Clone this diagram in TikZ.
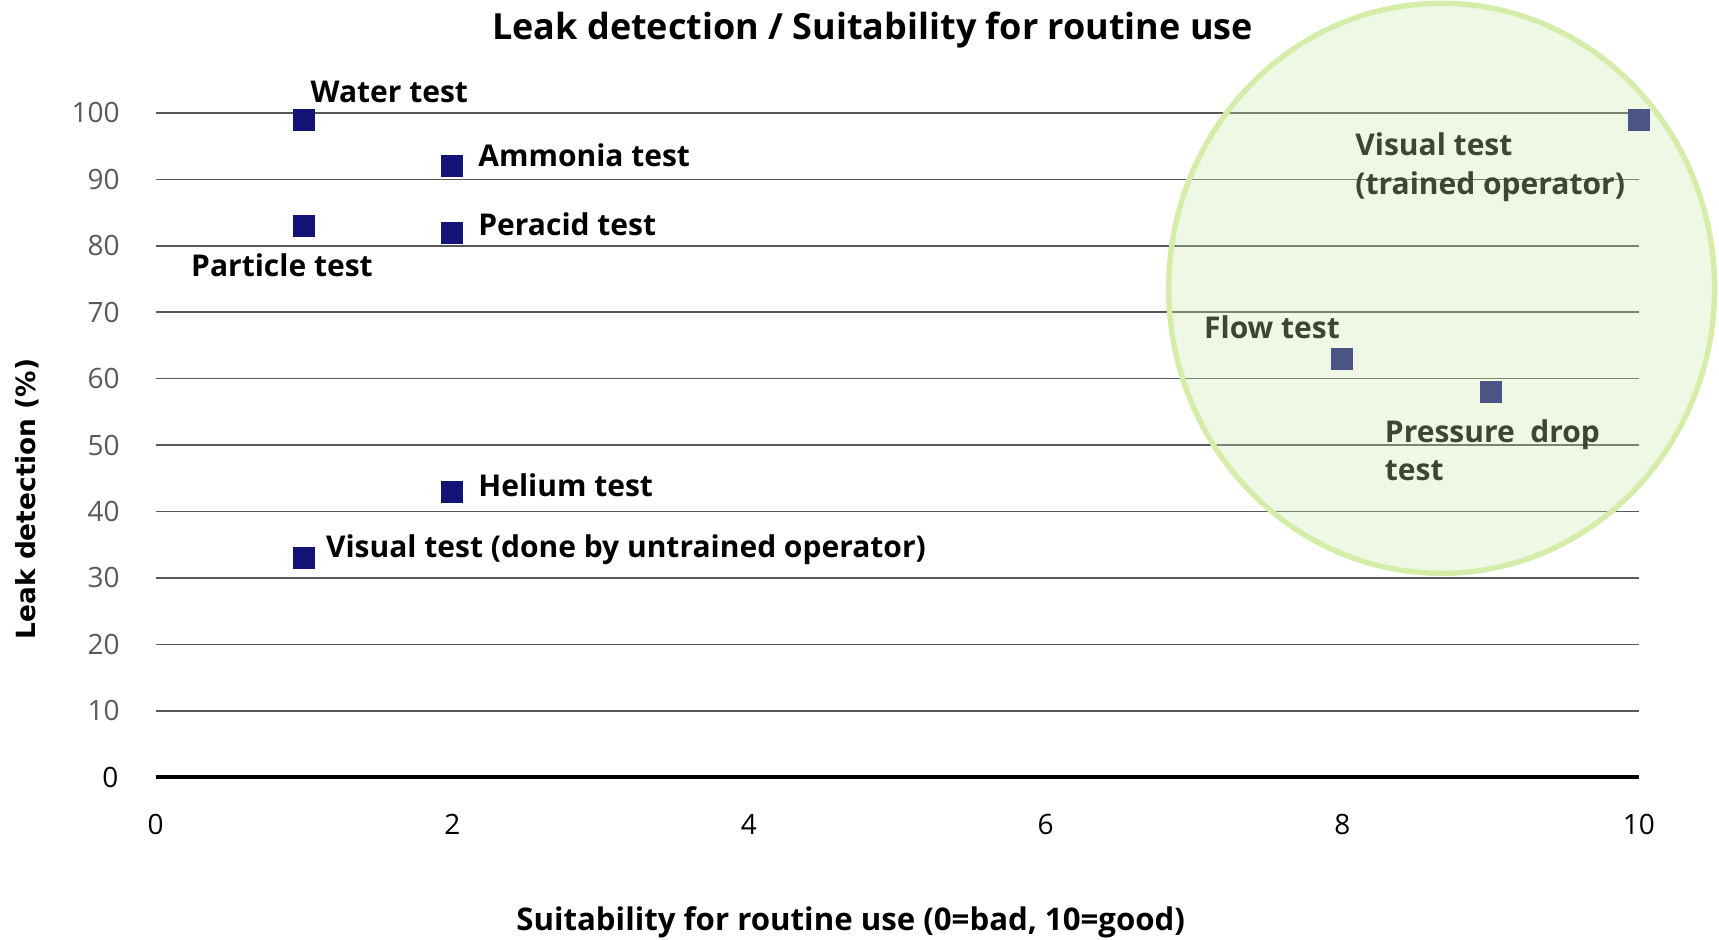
\documentclass[tikz,border=0pt]{standalone}
\usepackage{fontspec}
\setmainfont{Open Sans}
\newfontfamily\axisfont{DejaVu Sans}

\begin{document}
\begin{tikzpicture}[x=74.165pt,y=3.322pt,
    grid line/.style={black!65,line width=0.75pt},
    marker/.style={fill=markerblue,minimum size=11pt,inner sep=0pt},
    point label/.style={anchor=west,inner sep=0pt,align=left,
      font=\bfseries\fontsize{15}{19.2}\selectfont},
    tick label/.style={inner sep=0pt,font=\fontsize{14}{16}\selectfont}]

% Colours
\definecolor{markerblue}{RGB}{20,20,120}
\definecolor{zonefill}{RGB}{200,232,165}
\definecolor{zoneedge}{RGB}{212,238,170}

% Frame of the page
\useasboundingbox (-1.0497,-24.49) rectangle (10.540,117.0);

% Grid lines and y tick labels
\draw[grid line] (0,10) -- (10,10) node[pos=0,tick label,anchor=east,xshift=-17.6pt] (ytick10) {10};
\draw[grid line] (0,20) -- (10,20) node[pos=0,tick label,anchor=east,xshift=-17.6pt] (ytick20) {20};
\draw[grid line] (0,30) -- (10,30) node[pos=0,tick label,anchor=east,xshift=-17.6pt] (ytick30) {30};
\draw[grid line] (0,40) -- (10,40) node[pos=0,tick label,anchor=east,xshift=-17.6pt] (ytick40) {40};
\draw[grid line] (0,50) -- (10,50) node[pos=0,tick label,anchor=east,xshift=-17.6pt] (ytick50) {50};
\draw[grid line] (0,60) -- (10,60) node[pos=0,tick label,anchor=east,xshift=-17.6pt] (ytick60) {60};
\draw[grid line] (0,70) -- (10,70) node[pos=0,tick label,anchor=east,xshift=-17.6pt] (ytick70) {70};
\draw[grid line] (0,80) -- (10,80) node[pos=0,tick label,anchor=east,xshift=-17.6pt] (ytick80) {80};
\draw[grid line] (0,90) -- (10,90) node[pos=0,tick label,anchor=east,xshift=-17.6pt] (ytick90) {90};
\draw[grid line] (0,100) -- (10,100) node[pos=0,tick label,anchor=east,xshift=-17.6pt] (ytick100) {100};
\draw[line width=2pt] (0,0) -- (10,0) node[pos=0,tick label,anchor=east,xshift=-17.6pt] (ytick0) {0};

% x tick labels
\node[tick label] (xtick0) at (0,-7.1) {0};
\node[tick label] (xtick2) at (2,-7.1) {2};
\node[tick label] (xtick4) at (4,-7.1) {4};
\node[tick label] (xtick6) at (6,-7.1) {6};
\node[tick label] (xtick8) at (8,-7.1) {8};
\node[tick label] (xtick10) at (10,-7.1) {10};

% Titles
\node[font=\bfseries\fontsize{18}{22}\selectfont] (title) at (4.834,112.4)
  {Leak detection / Suitability for routine use};
\node[font=\bfseries\fontsize{15.6}{18}\selectfont] (xlabel) at (4.686,-21.8)
  {Suitability for routine use (0=bad, 10=good)};
\node[rotate=90,font=\axisfont\bfseries\fontsize{13.2}{16}\selectfont] (ylabel) at (-0.865,41.9)
  {Leak detection (\%)};

% Data points
\node[marker] (mWater) at (1,99) {};
\node[marker] (mAmmonia) at (2,92) {};
\node[marker] (mParticle) at (1,83) {};
\node[marker] (mPeracid) at (2,82) {};
\node[marker] (mHelium) at (2,43) {};
\node[marker] (mVisualA) at (1,33) {};
\node[marker] (mVisualB) at (10,99) {};
\node[marker] (mFlow) at (8,63) {};
\node[marker] (mPressure) at (9,58) {};

% Point labels
\node[point label] (lWater) at (1.042,103.1) {Water test};
\node[point label] (lAmmonia) at (2.173,93.7) {Ammonia test};
\node[point label] (lParticle) at (0.237,77.1) {Particle test};
\node[point label] (lPeracid) at (2.173,83.2) {Peracid test};
\node[point label] (lHelium) at (2.173,43.9) {Helium test};
\node[point label] (lVisualA) at (1.146,34.3) {Visual test (done by untrained operator)};
\node[point label] (lVisualB) at (8.086,91.8) {Visual test\\(trained operator)};
\node[point label] (lFlow) at (7.066,67.7) {Flow test};
\node[point label] (lPressure) at (8.285,49.2) {Pressure~~drop\\test};

% Zone of the routine tests
\draw[zoneedge,line width=2.7pt,fill=zonefill,fill opacity=0.3]
  (8.67,73.6) ellipse[x radius=136.5pt,y radius=142.5pt];

\end{tikzpicture}
\end{document}
